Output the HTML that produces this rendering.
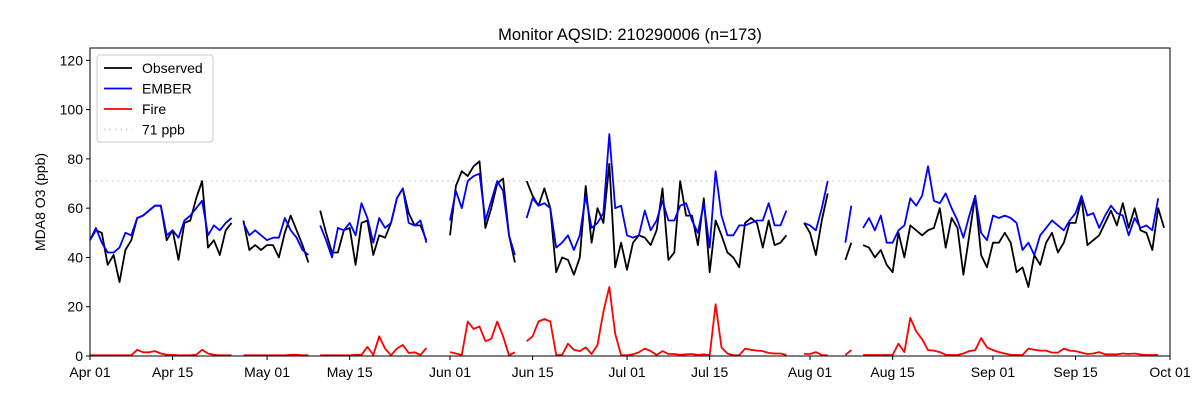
<!DOCTYPE html>
<html><head><meta charset="utf-8"><style>
body{margin:0;background:#fff;}
svg text{font-family:"Liberation Sans","DejaVu Sans",sans-serif;}
</style></head><body>
<svg id="chart" width="1200" height="400" xmlns="http://www.w3.org/2000/svg"></svg>
<script>
const N=null;
const dates=["Apr 01","Apr 15","May 01","May 15","Jun 01","Jun 15","Jul 01","Jul 15","Aug 01","Aug 15","Sep 01","Sep 15","Oct 01"];
const tickDays=[0,14,30,44,61,75,91,105,122,136,153,167,183];
const yTicks=[0,20,40,60,80,100,120];
const threshold=71;
const observed=[47,51,50,37,41,30,43,47,56,57,59,61,61,47,51,39,54,55,64,71,44,47,41,51,54,N,55,43,45,43,45,45,40,50,57,51,45,38,N,59,50,42,42,51,52,37,54,55,41,49,48,54,64,68,58,53,53,47,N,N,N,49,69,75,73,77,79,52,60,70,72,49,38,N,71,65,61,68,60,34,40,39,33,40,69,46,60,54,78,36,46,35,46,49,48,45,51,68,39,42,71,57,57,45,64,34,55,49,42,40,36,54,56,54,44,55,45,46,49,N,N,54,50,41,55,66,N,N,39,46,N,45,44,40,43,37,34,50,40,53,51,49,51,52,60,44,56,52,33,49,65,41,36,46,46,50,46,34,36,28,41,37,46,50,42,46,54,54,64,45,47,49,54,59,53,62,52,60,51,50,43,60,52];
const ember=[47,52,46,42,42,44,50,49,56,57,59,61,61,49,51,48,55,57,60,63,49,53,51,54,56,N,54,49,51,49,47,48,48,56,51,48,43,41,N,53,47,40,52,51,54,49,62,56,46,56,52,54,64,68,54,53,55,46,N,N,N,55,67,60,71,73,74,55,63,71,67,49,41,N,56,64,61,62,60,44,46,49,43,49,65,52,54,58,90,60,61,49,48,49,59,51,55,63,55,55,61,62,55,50,62,44,75,57,49,49,53,53,54,55,55,62,53,53,59,N,N,54,53,51,60,71,N,N,46,61,N,52,56,51,57,46,46,51,53,64,61,65,77,63,62,66,60,55,48,57,65,50,47,57,56,57,56,54,43,46,41,49,52,55,53,51,55,58,65,57,58,52,57,61,58,57,49,56,52,53,51,64,N];
const fire=[0.3,0.3,0.3,0.3,0.3,0.3,0.3,0.3,2.5,1.5,1.5,2,1,0.5,0.5,0.3,0.3,0.3,0.5,2.5,1,0.5,0.3,0.3,0.3,N,0.3,0.3,0.3,0.3,0.3,0.3,0.3,0.3,0.5,0.5,0.3,0.3,N,0.3,0.3,0.3,0.3,0.3,0.3,0.5,0.5,3.7,0.4,8,3,0.3,3,4.5,1.2,1.5,0.4,3.3,N,N,N,1.6,1,0.4,14,11,12,6,7,14,8,0.3,1.5,N,6,8,14,15,14,0.4,0.4,5,2.5,2,3.5,0.8,4.5,18,28,9,0.3,0.3,0.7,1.5,3,2,0.4,2,0.8,0.8,0.5,0.7,0.8,0.4,0.7,0.3,21,3.5,1,0.3,0.3,3,2.5,2.2,2,1.2,1,1,0.4,N,N,0.8,0.8,1.6,0.4,0.3,N,N,0.4,2.4,N,0.4,0.4,0.4,0.4,0.4,0.4,5,1.6,15.5,10,6.8,2.4,2.2,1.6,0.5,0.4,0.4,1,2,2.4,7.3,3.5,2.4,1.6,1,0.5,0.4,0.4,3,2.5,2.2,2.2,1.4,1.4,3,2.2,2,1.4,0.8,1,1.6,0.7,0.7,0.7,1,0.8,1,0.6,0.4,0.4,0.4,N];
const L=90,R=1170,T=48,B=356,XMAX=183,YMAX=125;
const xs=d=>L+(R-L)*d/XMAX, ys=v=>B-(B-T)*v/YMAX;
const svg=document.getElementById('chart');
const NS='http://www.w3.org/2000/svg';
function mk(tag,attrs,parent){const e=document.createElementNS(NS,tag);for(const k in attrs)e.setAttribute(k,attrs[k]);(parent||svg).appendChild(e);return e;}
// threshold line
const th=mk('line',{x1:L,x2:R,y1:ys(threshold),y2:ys(threshold),stroke:'#d3d3d3','stroke-width':1.5,'stroke-dasharray':'1.5,4'});


function series(arr,color,name){
  let d='',pen=false;
  arr.forEach((v,i)=>{if(v===null){pen=false;return;}d+=(pen?'L':'M')+xs(i).toFixed(1)+','+ys(v).toFixed(1);pen=true;});
  const p=mk('path',{d:d,fill:'none',stroke:color,'stroke-width':1.8,'stroke-linejoin':'round'});
  
  
}
series(fire,'#ff0000','fire-line');
series(observed,'#000000','observed-line');
series(ember,'#0000ff','ember-line');
// axes box
const box=mk('rect',{x:L,y:T,width:R-L,height:B-T,fill:'none',stroke:'#000','stroke-width':1});


yTicks.forEach(v=>{
  const y=ys(v);
  const t=mk('line',{x1:L-4,x2:L,y1:y,y2:y,stroke:'#000'});
  
  
  const tx=mk('text',{x:L-7,y:y+5,'text-anchor':'end','font-size':14});
  tx.textContent=v;
  
  
});
tickDays.forEach((d,i)=>{
  const x=xs(d);
  const t=mk('line',{x1:x,x2:x,y1:B,y2:B+4,stroke:'#000'});
  
  
  const tx=mk('text',{x:x,y:B+21,'text-anchor':'middle','font-size':14});
  tx.textContent=dates[i];
  
  
});
const title=mk('text',{x:630,y:40,'text-anchor':'middle','font-size':16.5});
title.textContent='Monitor AQSID: 210290006 (n=173)';


const yl=mk('text',{x:45,y:202,'text-anchor':'middle','font-size':14,transform:'rotate(-90 45 202)'});
yl.textContent='MDA8 O3 (ppb)';


// legend
const lg=mk('g',{});


mk('rect',{x:97,y:55,width:116,height:87,rx:3,fill:'#fff','fill-opacity':0.8,stroke:'#ccc'},lg);
const entries=[['Observed','#000',''],['EMBER','#0000ff',''],['Fire','#ff0000',''],['71 ppb','#d3d3d3','1.5,4']];
entries.forEach((e,i)=>{
  const y=68+i*20.5;
  const g=mk('g',{},lg);
  
  
  const a={x1:104,x2:132,y1:y,y2:y,stroke:e[1],'stroke-width':1.8};
  if(e[2])a['stroke-dasharray']=e[2];
  mk('line',a,g);
  const t=mk('text',{x:142,y:y+5,'font-size':14},g);
  t.textContent=e[0];
});
</script>
</body></html>
